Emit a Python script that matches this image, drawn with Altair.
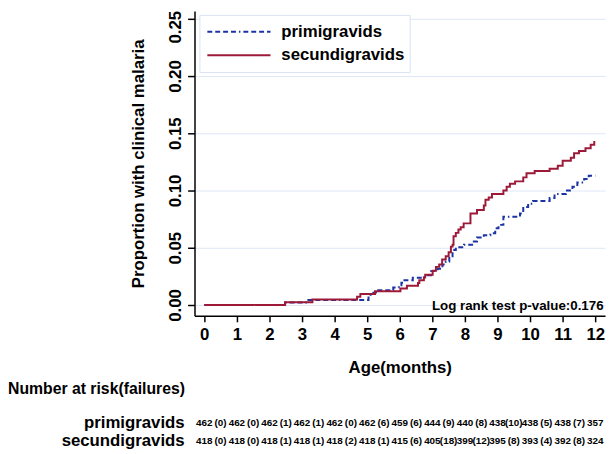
import altair as alt
import pandas as pd

FONT = "Liberation Sans"

# Kaplan-Meier style cumulative failure curves
prim_t = [0, 2.48, 3.12, 5.04, 5.10, 5.19, 5.34, 5.80, 5.97, 6.05, 6.10, 6.40, 6.76, 6.96,
          7.16, 7.31, 7.41, 7.52, 7.62, 7.72, 7.97, 8.22, 8.37, 8.58, 8.78, 8.93, 9.03,
          9.18, 9.69, 9.79, 9.94, 10.09, 10.60, 10.75, 11.10, 11.30, 11.45, 11.66, 11.80, 12.0]
prim_p = [0, 0.0022, 0.0043, 0.0065, 0.0087, 0.0108, 0.0130, 0.0152, 0.0173, 0.0195, 0.0217,
          0.0238, 0.0260, 0.0296, 0.0316, 0.0353, 0.0380, 0.0425, 0.0480, 0.0505, 0.0526,
          0.0555, 0.0590, 0.0610, 0.0626, 0.0670, 0.0700, 0.0770, 0.0800, 0.0856, 0.0885,
          0.0908, 0.0934, 0.0970, 0.1000, 0.1034, 0.1070, 0.1100, 0.1130, 0.1130]

sec_t = [0, 2.48, 3.32, 4.69, 4.79, 5.24, 6.02, 6.22, 6.56, 6.60, 6.74, 6.78, 7.01, 7.11,
         7.21, 7.30, 7.41, 7.50, 7.57, 7.62, 7.65, 7.72, 7.80, 7.87, 7.96, 8.17, 8.37, 8.58,
         8.63, 8.73, 8.83, 9.18, 9.28, 9.38, 9.54, 9.79, 9.89, 10.14, 10.60, 10.85, 11.00,
         11.25, 11.35, 11.50, 11.70, 11.86, 11.97, 12.0]
sec_p = [0, 0.0024, 0.0048, 0.0072, 0.0096, 0.0120, 0.0144, 0.0168, 0.0192, 0.0216, 0.0240,
         0.0264, 0.0300, 0.0333, 0.0353, 0.0397, 0.0425, 0.0460, 0.0510, 0.0526, 0.0600,
         0.0630, 0.0660, 0.0680, 0.0713, 0.0800, 0.0830, 0.0870, 0.0920, 0.0940, 0.0970,
         0.1000, 0.1034, 0.1060, 0.1080, 0.1115, 0.1150, 0.1170, 0.1190, 0.1216, 0.1260,
         0.1287, 0.1325, 0.1345, 0.1370, 0.1400, 0.1425, 0.1425]

groups = ["primigravids", "secundigravids"]
colors = ["#1c33a6", "#9c1a38"]

months = list(range(13))
prim_risk = [462, 462, 462, 462, 462, 462, 459, 444, 440, 438, 438, 438, 357]
prim_fail = [0, 0, 1, 1, 0, 6, 6, 9, 8, 10, 5, 7]
sec_risk = [418, 418, 418, 418, 418, 418, 415, 405, 399, 395, 393, 392, 324]
sec_fail = [0, 0, 1, 1, 2, 1, 6, 18, 12, 8, 4, 8]

y_ticks = [0, 0.05, 0.10, 0.15, 0.20, 0.25]

curves = pd.concat([
    pd.DataFrame({"group": groups[0], "t": prim_t, "p": prim_p}),
    pd.DataFrame({"group": groups[1], "t": sec_t, "p": sec_p}),
])

def risk_df(risk, fail):
    rows = [{"t": m, "label": str(r)} for m, r in zip(months, risk)]
    rows += [{"t": m + 0.5, "label": f"({f})"} for m, f in zip(months[:-1], fail)]
    return pd.DataFrame(rows)

W, H = 416, 309

xscale = alt.Scale(domain=[-0.3, 12.3], nice=False, zero=False)
yscale = alt.Scale(domain=[-0.0095, 0.2569], nice=False, zero=False)

x_axis = alt.Axis(
    values=months, title="Age(months)", grid=False, labelOverlap=False,
    labelFont=FONT, labelFontSize=17, labelFontWeight="bold", labelColor="black",
    labelPadding=5, tickSize=6, tickWidth=1.5, tickColor="black",
    domainColor="black", domainWidth=1.5,
    titleFont=FONT, titleFontSize=17, titleFontWeight="bold", titleColor="black",
    titleBaseline="alphabetic", titleAlign="center", titleX=W / 2, titleY=57)

legend = alt.Legend(
    orient="none", legendX=5, legendY=4, title=None, symbolType="stroke",
    symbolSize=4096, symbolStrokeWidth=2, clipHeight=24, symbolOffset=2,
    labelFont=FONT, labelFontSize=17, labelFontWeight="bold", labelColor="black",
    labelOffset=10, padding=5, rowPadding=0, strokeColor="#d8e2f2", fillColor="white",
    labelLimit=300,
)

lines = alt.Chart(curves).mark_line(interpolate="step-after", strokeWidth=2).encode(
    x=alt.X("t:Q", scale=xscale, axis=x_axis, title="Age(months)"),
    y=alt.Y("p:Q", scale=yscale, axis=alt.Axis(
        values=y_ticks, format=".2f", title="Proportion with clinical malaria",
        grid=True, gridColor="#dde7f7", gridWidth=1, labelOverlap=False,
        labelFont=FONT, labelFontSize=17, labelFontWeight="bold", labelColor="black",
        labelAngle=270, labelAlign="center", labelBaseline="alphabetic", labelPadding=7,
        labelOffset={"condition": {"test": "datum.value > 0.24", "value": 8}, "value": 0},
        tickSize=7, tickWidth=1.5, tickColor="black", domainColor="black", domainWidth=1.5,
        titleFont=FONT, titleFontSize=17, titleFontWeight="bold", titleColor="black",
        titleAngle=270, titleAlign="center", titleBaseline="alphabetic",
        titleX=-52, titleY=H / 2)),
    color=alt.Color("group:N", scale=alt.Scale(domain=groups, range=colors), legend=legend),
    strokeDash=alt.StrokeDash("group:N", scale=alt.Scale(
        domain=groups, range=[[5, 3, 5, 3, 5, 3, 5, 3, 1.5, 3], [1, 0]]), legend=legend),
)

one = pd.DataFrame({"k": [0]})

pval = alt.Chart(one).mark_text(
    text="Log rank test p-value:0.176", font=FONT, fontSize=13.5, fontWeight="bold",
    align="right", baseline="alphabetic", color="black",
).encode(x=alt.value(414.5), y=alt.value(303))

nar_title = alt.Chart(one).mark_text(
    text="Number at risk(failures)", font=FONT, fontSize=16, fontWeight="bold",
    align="left", baseline="alphabetic", color="black",
).encode(x=alt.value(-189), y=alt.value(388))

row_labels = []
row_numbers = []
for g, risk, fail, ylab, ynum in [
    (groups[0], prim_risk, prim_fail, 423, 420.5),
    (groups[1], sec_risk, sec_fail, 440.5, 438.5),
]:
    row_labels.append(alt.Chart(one).mark_text(
        text=g, font=FONT, fontSize=17, fontWeight="bold", align="right",
        baseline="alphabetic", color="black",
    ).encode(x=alt.value(-10), y=alt.value(ylab)))
    row_numbers.append(alt.Chart(risk_df(risk, fail)).mark_text(
        font=FONT, fontSize=10, fontWeight="bold", align="center",
        baseline="alphabetic", color="black",
    ).encode(x=alt.X("t:Q", scale=xscale, axis=x_axis, title="Age(months)"),
             y=alt.value(ynum), text="label:N"))

chart = alt.layer(lines, pval, nar_title, *row_labels, *row_numbers).properties(
    width=W, height=H,
    autosize=alt.AutoSizeParams(type="none"),
    padding={"left": 189, "top": 0, "right": 2, "bottom": 137},
    background="white",
).configure_view(stroke=None)

chart.save("out.html", embed_options={"renderer": "svg", "actions": False})
